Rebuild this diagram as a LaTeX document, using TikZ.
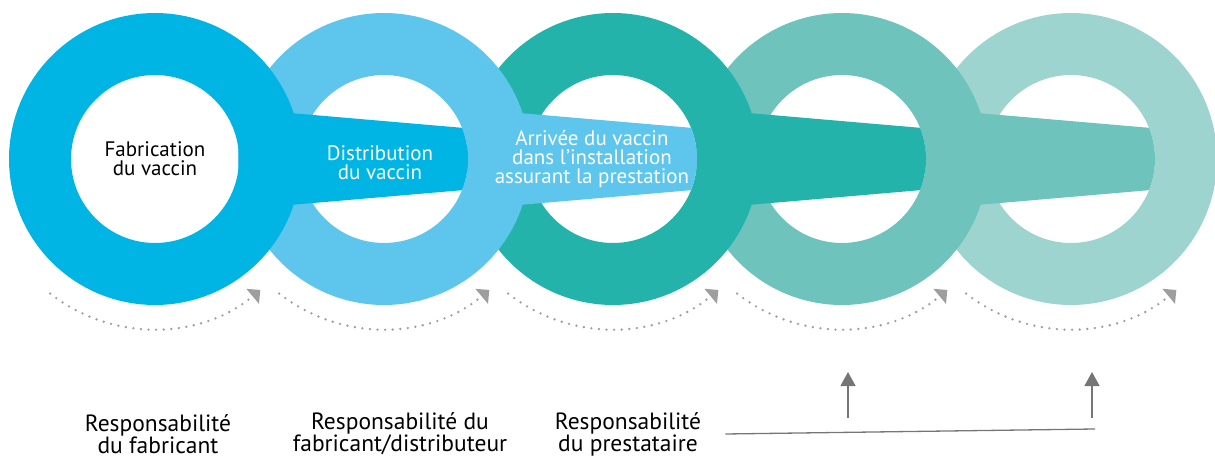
\documentclass[tikz,border=0pt]{standalone}
\usepackage{fontspec}
\setmainfont{PT Sans}
\usetikzlibrary{arrows.meta,
                positioning}
\definecolor{fabblue}{RGB}{0,181,227}
\definecolor{distblue}{RGB}{94,197,236}
\definecolor{arrteal}{RGB}{35,179,170}
\definecolor{midteal}{RGB}{110,195,188}
\definecolor{paleteal}{RGB}{157,212,207}
\definecolor{dotgray}{RGB}{158,158,158}
\definecolor{linegray}{RGB}{118,118,118}
\tikzset{ring/.style =
   {circle,
    draw=#1,
    line width=62pt,
    minimum size=230pt,
    inner sep=0pt}}
\tikzset{stage-text/.style =
   {align=center,
    inner sep=0pt,
    font=\fontsize{21}{19}\selectfont}}
\tikzset{resp-text/.style =
   {align=center,
    inner sep=0pt,
    font=\fontsize{23.5}{22}\selectfont}}
\tikzset{cycle-arrow/.style =
   {draw=dotgray,
    line width=2.6pt,
    line cap=round,
    dash pattern=on 0pt off 7.6pt,
    -{Triangle[length=10pt,width=19pt]}}}
\tikzset{arrow/.style = {draw=linegray, line width=1.3pt, -{Triangle[length=14pt,width=15pt]}}}

\begin{document}
\begin{tikzpicture}[x=1pt, y=1pt]

        \useasboundingbox (0,0) rectangle (1215,458);

        % ring centres
        \coordinate (fabrication)  at (155,299);
        \coordinate (distribution) at (384,299);
        \coordinate (arrival)      at (613,299);
        \coordinate (stage4)       at (842,299);
        \coordinate (stage5)       at (1071,299);

        % rings from right to left, each band goes under the ring it leaves
        \node [ring=paleteal] (ring5) at (stage5) {};

        \fill [midteal] ([shift={(84,50.4)}]stage4)
         -- ([shift={(78,31.2)}]stage5) arc [start angle=21.8, end angle=-21.8, radius=84pt]
         -- ([shift={(84,-50.4)}]stage4) -- cycle;
        \node [ring=midteal] (ring4) at (stage4) {};

        \fill [arrteal] ([shift={(84,50.4)}]arrival)
         -- ([shift={(78,31.2)}]stage4) arc [start angle=21.8, end angle=-21.8, radius=84pt]
         -- ([shift={(84,-50.4)}]arrival) -- cycle;
        \node [ring=arrteal] (ring3) at (arrival) {};

        \fill [distblue] ([shift={(84,50.4)}]distribution)
         -- ([shift={(78,31.2)}]arrival) arc [start angle=21.8, end angle=-21.8, radius=84pt]
         -- ([shift={(84,-50.4)}]distribution) -- cycle;
        \node [ring=distblue] (ring2) at (distribution) {};

        \fill [fabblue] ([shift={(84,50.4)}]fabrication)
         -- ([shift={(78,31.2)}]distribution) arc [start angle=21.8, end angle=-21.8, radius=84pt]
         -- ([shift={(84,-50.4)}]fabrication) -- cycle;
        \node [ring=fabblue, stage-text] (ring1) at (fabrication) {Fabrication\\du vaccin};

        \node [stage-text, white] (dist-text) at ([shift={(-4,-4)}]distribution)
         {Distribution\\du vaccin};
        \node [stage-text, white] (arr-text) at ([shift={(-21,0)}]arrival)
         {Arrivée du vaccin\\dans l'installation\\assurant la prestation};

        % dotted turns under the rings
        \draw [cycle-arrow] ([shift={(-2,-3)}, shift={(-128:167pt)}]fabrication)
         arc [start angle=-128, end angle=-50, radius=167pt];
        \draw [cycle-arrow] ([shift={(-2,-3)}, shift={(-128:167pt)}]distribution)
         arc [start angle=-128, end angle=-50, radius=167pt];
        \draw [cycle-arrow] ([shift={(-2,-3)}, shift={(-128:167pt)}]arrival)
         arc [start angle=-128, end angle=-50, radius=167pt];
        \draw [cycle-arrow] ([shift={(-2,-3)}, shift={(-128:167pt)}]stage4)
         arc [start angle=-128, end angle=-50, radius=167pt];
        \draw [cycle-arrow] ([shift={(-2,-3)}, shift={(-128:167pt)}]stage5)
         arc [start angle=-128, end angle=-50, radius=167pt];

        % who is responsible
        \node [resp-text] (resp-fab) at (158,24) {Responsabilité\\du fabricant};
        \node [resp-text] (resp-dist) at (400,24) {Responsabilité du\\fabricant/distributeur};
        \node [resp-text] (resp-prest) at (628,24) {Responsabilité\\du prestataire};

        \coordinate (line-end) at (1095,29);
        \draw [linegray, line width=1.3pt] ([xshift=24pt]resp-prest.east) -- (line-end);

        \coordinate (up4-foot) at (848,40);
        \coordinate (up4-tip)  at (848,86);
        \coordinate (up5-foot) at (1092,40);
        \coordinate (up5-tip)  at (1092,86);
        \draw [arrow] (up4-foot) -- (up4-tip);
        \draw [arrow] (up5-foot) -- (up5-tip);

    \end{tikzpicture}
\end{document}
